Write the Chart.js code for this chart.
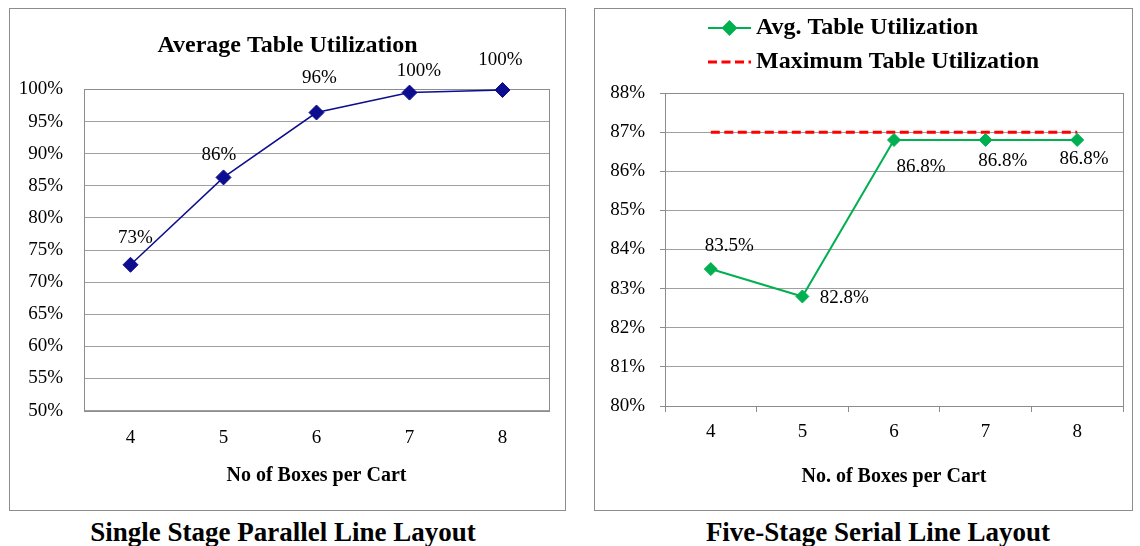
<!DOCTYPE html>
<html>
<head>
<meta charset="utf-8">
<script src="https://cdn.jsdelivr.net/npm/chart.js@4/dist/chart.umd.min.js"></script>
<style>
html,body{margin:0;padding:0;background:#fff;}
body{width:1140px;height:546px;position:relative;overflow:hidden;font-family:'Liberation Serif','Times New Roman',serif;}
.panel{position:absolute;border:1px solid #8c8c8c;box-sizing:border-box;}
canvas{position:absolute;}
.cap{position:absolute;font-weight:bold;font-size:27px;line-height:27px;white-space:nowrap;text-align:center;color:#000;}
</style>
</head>
<body>
<div class="panel" style="left:9px;top:8px;width:557px;height:503px"></div>
<div class="panel" style="left:594px;top:8px;width:539px;height:503px"></div>
<canvas id="c1" width="555" height="501" style="left:10px;top:9px"></canvas>
<canvas id="c2" width="537" height="501" style="left:595px;top:9px"></canvas>
<div class="cap" style="left:83px;width:400px;top:519px">Single Stage Parallel Line Layout</div>
<div class="cap" style="left:678px;width:400px;top:519px">Five-Stage Serial Line Layout</div>
<script>
// ---- data ----
const categories = ['4', '5', '6', '7', '8'];
const parallelUtil = [72.7, 86.3, 96.4, 99.5, 99.9];
const serialUtil = [83.5, 82.8, 86.8, 86.8, 86.8];
const serialMaxUtil = [87, 87, 87, 87, 87];
const parallelTitle = 'Average Table Utilization';
const parallelXTitle = 'No of Boxes per Cart';
const serialXTitle = 'No. of Boxes per Cart';
const serialSeriesNames = ['Avg. Table Utilization', 'Maximum Table Utilization'];

// label nudges (style only, in pixels relative to each point)
const parallelLabelNudge = [[5, -27], [-4.5, -22], [3, -35], [9.5, -22], [-2, -30]];
const serialLabelNudge = [[18.6, -23], [42, 1.5], [27, 27], [17.3, 20.6], [6.8, 18.8]];

const FAMILY = "'Liberation Serif', 'Times New Roman', serif";
Chart.defaults.font.family = FAMILY;
Chart.defaults.color = '#000';

const valueLabels = {
  id: 'valueLabels',
  afterDatasetsDraw(chart) {
    const ctx = chart.ctx;
    chart.data.datasets.forEach((ds, i) => {
      if (!ds.valueLabel) return;
      const meta = chart.getDatasetMeta(i);
      ctx.save();
      ctx.font = '19px ' + FAMILY;
      ctx.fillStyle = '#000';
      ctx.textAlign = 'center';
      ctx.textBaseline = 'middle';
      meta.data.forEach((pt, j) => {
        const n = ds.valueLabel.nudge[j];
        ctx.fillText(ds.data[j].toFixed(ds.valueLabel.decimals) + '%', pt.x + n[0], pt.y + n[1]);
      });
      ctx.restore();
    });
  }
};

const plotFrame = {
  id: 'plotFrame',
  beforeDatasetsDraw(chart, args, opts) {
    const {left, top, right, bottom} = chart.chartArea;
    const ctx = chart.ctx;
    ctx.save();
    ctx.strokeStyle = opts.color || '#8c8c8c';
    ctx.lineWidth = 1;
    const l = Math.round(left) + 0.5, t = Math.round(top) + 0.5;
    const r = Math.round(right) + 0.5, b = Math.round(bottom) + 0.5;
    ctx.strokeRect(l, t, r - l, b - t);
    ctx.restore();
  }
};

const lineLegend = {
  id: 'lineLegend',
  afterDraw(chart, args, opts) {
    if (!opts || !opts.display) return;
    const ctx = chart.ctx;
    chart.data.datasets.forEach((ds, i) => {
      const y = opts.y + i * opts.rowGap;
      ctx.save();
      ctx.strokeStyle = ds.borderColor;
      ctx.lineWidth = ds.borderWidth;
      ctx.setLineDash(ds.borderDash || []);
      ctx.beginPath();
      ctx.moveTo(opts.x, y);
      ctx.lineTo(opts.x + opts.sample, y);
      ctx.stroke();
      ctx.setLineDash([]);
      if (ds.pointRadius > 0) {
        ctx.fillStyle = ds.pointBackgroundColor;
        ctx.strokeStyle = ds.pointBorderColor;
        Chart.helpers.drawPoint(ctx, {pointStyle: ds.pointStyle, radius: ds.pointRadius, borderWidth: 1, rotation: 0}, opts.x + opts.sample / 2, y);
      }
      ctx.font = 'bold 24px ' + FAMILY;
      ctx.fillStyle = '#000';
      ctx.textAlign = 'left';
      ctx.textBaseline = 'middle';
      ctx.fillText(ds.label, opts.x + opts.sample + opts.gap, y);
      ctx.restore();
    });
  }
};

// ---- left chart ----
new Chart(document.getElementById('c1'), {
  type: 'line',
  data: {
    labels: categories,
    datasets: [{
      label: parallelTitle,
      data: parallelUtil,
      borderColor: '#0d0d8f',
      backgroundColor: '#0d0d8f',
      borderWidth: 1.5,
      pointStyle: 'rectRot',
      pointRadius: 7.5,
      pointBackgroundColor: '#0d0d8f',
      pointBorderColor: '#0d0d8f',
      pointBorderWidth: 1,
      tension: 0,
      clip: false,
      valueLabel: {decimals: 0, nudge: parallelLabelNudge}
    }]
  },
  options: {
    responsive: false,
    animation: false,
    devicePixelRatio: 1,
    layout: {padding: {left: 0, right: 0, top: 0, bottom: 0}},
    plugins: {
      legend: {display: false},
      tooltip: {enabled: false},
      title: {
        display: true,
        text: parallelTitle,
        color: '#000',
        font: {size: 24, weight: 'bold', family: FAMILY},
        padding: {top: 22.6, bottom: 29}
      },
      plotFrame: {color: '#8c8c8c'}
    },
    scales: {
      x: {
        offset: true,
        grid: {display: false, drawTicks: false},
        border: {display: false},
        ticks: {padding: 16, font: {size: 19, family: FAMILY}, color: '#000'},
        title: {display: true, text: parallelXTitle, color: '#000', font: {size: 20, weight: 'bold', family: FAMILY}, padding: {top: 0, bottom: 22.4}},
        afterFit(s) { s.height = 99.4; }
      },
      y: {
        min: 50, max: 100,
        grid: {color: '#a0a0a0', drawTicks: false},
        border: {display: false},
        ticks: {stepSize: 5, padding: 21, font: {size: 19, family: FAMILY}, color: '#000', callback: v => v + '%'},
        afterFit(s) { s.width = 74; }
      },
      yR: {
        position: 'right',
        display: true,
        grid: {display: false, drawTicks: false},
        border: {display: false},
        ticks: {display: false},
        afterFit(s) { s.width = 16; }
      }
    }
  },
  plugins: [plotFrame, valueLabels]
});

// ---- right chart ----
new Chart(document.getElementById('c2'), {
  type: 'line',
  data: {
    labels: categories,
    datasets: [{
      label: serialSeriesNames[0],
      data: serialUtil,
      borderColor: '#00b050',
      backgroundColor: '#00b050',
      borderWidth: 2,
      pointStyle: 'rectRot',
      pointRadius: 6.5,
      pointBackgroundColor: '#00b050',
      pointBorderColor: '#00b050',
      pointBorderWidth: 1,
      tension: 0,
      clip: false,
      valueLabel: {decimals: 1, nudge: serialLabelNudge}
    }, {
      label: serialSeriesNames[1],
      data: serialMaxUtil,
      borderColor: '#ff0000',
      backgroundColor: '#ff0000',
      borderWidth: 3,
      borderDash: [9, 4.5],
      pointRadius: 0,
      tension: 0,
      clip: false
    }]
  },
  options: {
    responsive: false,
    animation: false,
    devicePixelRatio: 1,
    layout: {padding: {left: 0, right: 9, top: 84, bottom: 0}},
    plugins: {
      legend: {display: false},
      tooltip: {enabled: false},
      title: {display: false},
      plotFrame: {color: '#8c8c8c'},
      lineLegend: {display: true, x: 113, y: 19, rowGap: 34, sample: 43, gap: 5}
    },
    scales: {
      x: {
        offset: true,
        grid: {offset: true, drawOnChartArea: false, drawTicks: true, tickLength: 6, color: '#8c8c8c', tickColor: '#8c8c8c'},
        border: {display: false},
        ticks: {padding: 8.3, font: {size: 19, family: FAMILY}, color: '#000'},
        title: {display: true, text: serialXTitle, color: '#000', font: {size: 20, weight: 'bold', family: FAMILY}, padding: {top: 0, bottom: 21.4}},
        afterFit(s) { s.height = 104; }
      },
      y: {
        min: 80, max: 88,
        grid: {color: '#a0a0a0', drawTicks: true, tickLength: 5, tickColor: '#8c8c8c'},
        border: {display: false},
        ticks: {stepSize: 1, padding: 15, font: {size: 19, family: FAMILY}, color: '#000', callback: v => v + '%'},
        afterFit(s) { s.width = 70; }
      }
    }
  },
  plugins: [plotFrame, valueLabels, lineLegend]
});
</script>
</body>
</html>
